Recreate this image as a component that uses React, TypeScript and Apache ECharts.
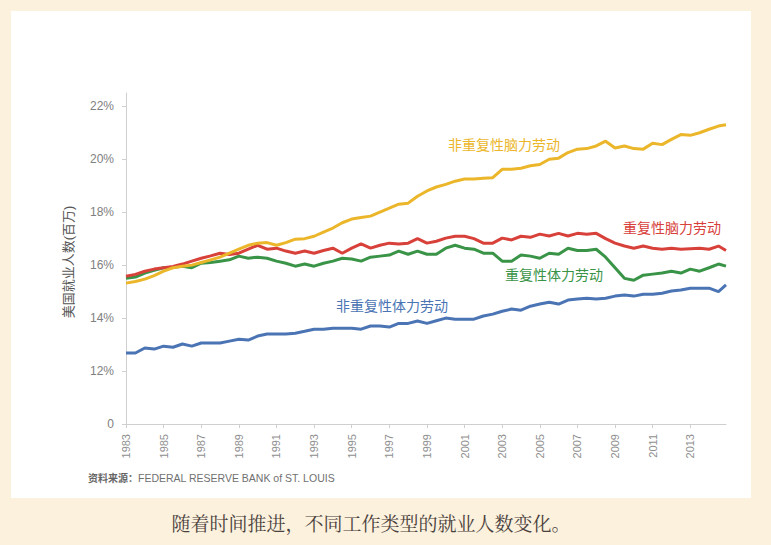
import React, { useEffect, useRef } from "react";
import * as echarts from "echarts";

const years = [
  1983, 1983.5, 1984, 1984.5, 1985, 1985.5, 1986, 1986.5, 1987, 1987.5, 1988, 1988.5, 1989, 1989.5,
  1990, 1990.5, 1991, 1991.5, 1992, 1992.5, 1993, 1993.5, 1994, 1994.5, 1995, 1995.5, 1996, 1996.5,
  1997, 1997.5, 1998, 1998.5, 1999, 1999.5, 2000, 2000.5, 2001, 2001.5, 2002, 2002.5, 2003, 2003.5,
  2004, 2004.5, 2005, 2005.5, 2006, 2006.5, 2007, 2007.5, 2008, 2008.5, 2009, 2009.5, 2010, 2010.5,
  2011, 2011.5, 2012, 2012.5, 2013, 2013.5, 2014, 2014.5, 2014.9,
];

const nonRoutineCognitive = [
  15.32, 15.38, 15.47, 15.6, 15.77, 15.9, 15.96, 16.0, 16.1, 16.2, 16.3, 16.45, 16.6, 16.75,
  16.83, 16.85, 16.75, 16.85, 16.98, 17.0, 17.09, 17.25, 17.4, 17.6, 17.74, 17.8, 17.85, 18.0,
  18.15, 18.3, 18.34, 18.6, 18.8, 18.95, 19.05, 19.17, 19.25, 19.25, 19.28, 19.3, 19.62, 19.62,
  19.66, 19.75, 19.8, 20.0, 20.04, 20.25, 20.38, 20.4, 20.5, 20.68, 20.42, 20.5, 20.4, 20.38,
  20.6, 20.55, 20.75, 20.93, 20.9, 21.0, 21.13, 21.25, 21.3,
];

const routineCognitive = [
  15.58, 15.65, 15.77, 15.85, 15.9, 15.95, 16.04, 16.15, 16.26, 16.35, 16.45, 16.4, 16.45, 16.6,
  16.75, 16.6, 16.64, 16.53, 16.45, 16.53, 16.45, 16.55, 16.64, 16.45, 16.64, 16.8, 16.64, 16.75,
  16.83, 16.8, 16.83, 17.0, 16.83, 16.9, 17.02, 17.09, 17.09, 17.0, 16.83, 16.83, 17.02, 16.95,
  17.09, 17.05, 17.17, 17.1, 17.2, 17.1, 17.2, 17.17, 17.2, 17.0, 16.83, 16.72, 16.64, 16.72,
  16.64, 16.6, 16.64, 16.6, 16.62, 16.64, 16.6, 16.72, 16.55,
];

const routineManual = [
  15.5, 15.55, 15.7, 15.8, 15.9, 15.92, 15.96, 15.9, 16.07, 16.1, 16.15, 16.2, 16.34, 16.26,
  16.3, 16.26, 16.15, 16.07, 15.96, 16.04, 15.96, 16.07, 16.15, 16.26, 16.23, 16.15, 16.3, 16.34,
  16.38, 16.53, 16.41, 16.53, 16.41, 16.41, 16.64, 16.75, 16.64, 16.6, 16.45, 16.45, 16.15, 16.15,
  16.38, 16.34, 16.26, 16.45, 16.41, 16.64, 16.55, 16.55, 16.6, 16.3, 15.9, 15.5, 15.43, 15.62,
  15.66, 15.7, 15.77, 15.7, 15.85, 15.77, 15.9, 16.04, 15.96,
];

const nonRoutineManual = [
  12.68, 12.68, 12.87, 12.83, 12.94, 12.9, 13.02, 12.94, 13.06, 13.06, 13.06, 13.13, 13.2, 13.17,
  13.32, 13.4, 13.4, 13.4, 13.43, 13.5, 13.58, 13.58, 13.62, 13.62, 13.62, 13.58, 13.7, 13.7,
  13.66, 13.8, 13.8, 13.89, 13.8, 13.9, 14.0, 13.96, 13.96, 13.96, 14.08, 14.15, 14.26, 14.34,
  14.3, 14.45, 14.53, 14.6, 14.53, 14.68, 14.72, 14.75, 14.72, 14.75, 14.83, 14.87, 14.83, 14.9,
  14.9, 14.94, 15.02, 15.06, 15.13, 15.13, 15.13, 15.0, 15.25,
];

const xTickYears = [1983, 1985, 1987, 1989, 1991, 1993, 1995, 1997, 1999, 2001, 2003, 2005, 2007, 2009, 2011, 2013];
// axis value 10 stands for the broken "0" baseline
const yTickValues = [10, 12, 14, 16, 18, 20, 22];

const seriesNames = ["非重复性脑力劳动", "重复性脑力劳动", "重复性体力劳动", "非重复性体力劳动"];
const seriesColors = ["#EBB62A", "#D8403A", "#3A9447", "#4A74B4"];

const yAxisTitle = "美国就业人数(百万)";
const sourceLabel = "资料来源：";
const sourceText = "FEDERAL RESERVE BANK of ST. LOUIS";
const caption = "随着时间推进，不同工作类型的就业人数变化。";

const FONT = "'Helvetica Neue', Helvetica, Arial, 'Noto Sans CJK SC', sans-serif";

export default function App() {
  const ref = useRef<HTMLDivElement>(null);

  useEffect(() => {
    if (!ref.current) return;
    const chart = echarts.init(ref.current, null, { renderer: "svg" });
    const allSeries = [nonRoutineCognitive, routineCognitive, routineManual, nonRoutineManual];

    chart.setOption({
      animation: false,
      backgroundColor: "transparent",
      textStyle: { fontFamily: FONT },
      grid: { left: 126, right: 45, top: 93, bottom: 121, containLabel: false },
      xAxis: {
        type: "value",
        min: 1983,
        max: 2014.9,
        splitLine: { show: false },
        axisLine: { lineStyle: { color: "#cfcfcf", width: 1 } },
        axisTick: { show: true, length: 4, customValues: xTickYears, lineStyle: { color: "#cfcfcf" } },
        axisLabel: {
          customValues: xTickYears,
          rotate: 90,
          color: "#8f8f8f",
          fontSize: 11,
          margin: 10,
          formatter: (v: number) => String(v),
        },
      },
      yAxis: {
        type: "value",
        min: 10,
        max: 22.5,
        splitLine: { show: false },
        axisLine: { show: true, lineStyle: { color: "#cfcfcf", width: 1 } },
        axisTick: { show: true, length: 4, customValues: yTickValues, lineStyle: { color: "#cfcfcf" } },
        axisLabel: {
          customValues: yTickValues,
          color: "#808080",
          fontSize: 12,
          margin: 12,
          formatter: (v: number) => (v === 10 ? "0" : v + "%"),
        },
      },
      series: allSeries.map((arr, k) => ({
        type: "line",
        name: seriesNames[k],
        showSymbol: false,
        symbol: "none",
        lineStyle: { color: seriesColors[k], width: 3 },
        itemStyle: { color: seriesColors[k] },
        data: years.map((y, i) => [y, arr[i]]),
        z: 10 - k,
      })),
      graphic: [
        {
          type: "text",
          x: 68,
          y: 262,
          rotation: Math.PI / 2,
          style: {
            text: yAxisTitle,
            fill: "#555",
            font: `13px ${FONT}`,
            align: "center",
            verticalAlign: "middle",
          },
        },
        {
          type: "text", x: 448, y: 145,
          style: { text: seriesNames[0], fill: seriesColors[0], font: `14px ${FONT}`, verticalAlign: "middle" },
        },
        {
          type: "text", x: 623, y: 228,
          style: { text: seriesNames[1], fill: seriesColors[1], font: `14px ${FONT}`, verticalAlign: "middle" },
        },
        {
          type: "text", x: 505, y: 275,
          style: { text: seriesNames[2], fill: seriesColors[2], font: `14px ${FONT}`, verticalAlign: "middle" },
        },
        {
          type: "text", x: 336, y: 306,
          style: { text: seriesNames[3], fill: seriesColors[3], font: `14px ${FONT}`, verticalAlign: "middle" },
        },
        {
          type: "text", x: 88, y: 478,
          style: {
            text: `{b|${sourceLabel}}{n|${sourceText}}`,
            verticalAlign: "middle",
            rich: {
              b: { fontSize: 10, fontWeight: "bold", fill: "#666", fontFamily: FONT },
              n: { fontSize: 10.5, fill: "#707070", fontFamily: FONT },
            },
          },
        },
        {
          type: "text", x: 371, y: 522,
          style: {
            text: caption,
            fill: "#4a403c",
            font: `19px 'Noto Serif CJK SC', serif`,
            align: "center",
            verticalAlign: "middle",
          },
        },
      ],
    });
    return () => chart.dispose();
  }, []);

  return (
    <div style={{ position: "absolute", left: 0, top: 0, width: 771, height: 545, background: "#FBF1DD", overflow: "hidden" }}>
      <div style={{ position: "absolute", left: 11, top: 11, width: 740, height: 487, background: "#ffffff" }} />
      <div ref={ref} style={{ position: "absolute", left: 0, top: 0, width: 771, height: 545 }} />
    </div>
  );
}
